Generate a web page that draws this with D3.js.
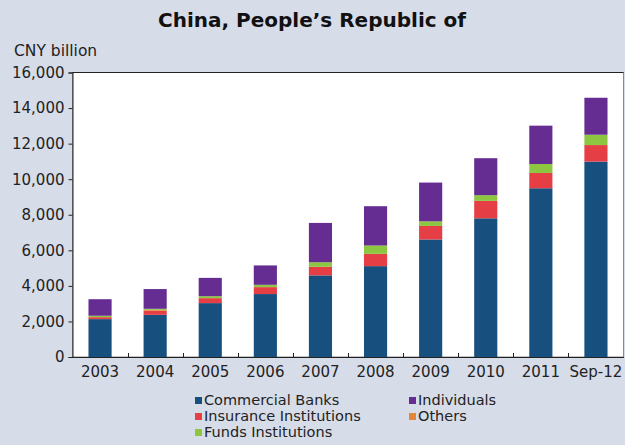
<!DOCTYPE html>
<html>
<head>
<meta charset="utf-8">
<script src="https://cdn.jsdelivr.net/npm/d3@7"></script>
<style>
  html, body { margin: 0; padding: 0; background: #D7DCE9; }
  svg { display: block; }
  text { font-family: "DejaVu Sans", Verdana, sans-serif; fill: #222; }
</style>
</head>
<body>
<svg id="chart" width="625" height="445"></svg>
<script>
// Holdings by investor type, CNY billion
const categories = ["2003", "2004", "2005", "2006", "2007", "2008", "2009", "2010", "2011", "Sep-12"];
const commercialBanks = [2130, 2370, 3030, 3540, 4590, 5110, 6610, 7800, 9490, 10990];
const insurance       = [110, 230, 280, 390, 480, 690, 760, 980, 860, 930];
const others          = [0, 50, 0, 0, 0, 0, 0, 0, 0, 0];
const funds           = [80, 60, 110, 130, 260, 470, 260, 320, 505, 580];
const individuals     = [930, 1110, 1030, 1090, 2210, 2210, 2180, 2080, 2155, 2080];
const yTicks = [0, 2000, 4000, 6000, 8000, 10000, 12000, 14000, 16000];

const seriesDefs = [
  { key: "banks", name: "Commercial Banks", values: commercialBanks, color: "#174F7E" },
  { key: "insurance", name: "Insurance Institutions", values: insurance, color: "#E63E45" },
  { key: "others", name: "Others", values: others, color: "#E3883B" },
  { key: "funds", name: "Funds Institutions", values: funds, color: "#8DC641" },
  { key: "individuals", name: "Individuals", values: individuals, color: "#652D91" }
];

const rows = categories.map((c, i) => {
  const r = { cat: c };
  seriesDefs.forEach(s => r[s.key] = s.values[i]);
  return r;
});

const svg = d3.select("#chart");
const plot = { left: 72.5, right: 623.5, top: 72.5, bottom: 357 };

const x = d3.scaleBand().domain(categories)
  .range([plot.left, plot.right]).paddingInner(0.58).paddingOuter(0.29);
const y = d3.scaleLinear().domain([0, 16000]).range([plot.bottom, plot.top]);

// Title and unit
svg.append("text").attr("x", 312).attr("y", 27).attr("text-anchor", "middle")
  .style("font-size", "20px").style("font-weight", "bold").style("fill", "#111")
  .text("China, People\u2019s Republic of");
svg.append("text").attr("x", 14).attr("y", 56).style("font-size", "15.5px")
  .text("CNY billion");

// Plot area
svg.append("rect").attr("x", plot.left).attr("y", plot.top)
  .attr("width", plot.right - plot.left).attr("height", plot.bottom - plot.top)
  .attr("fill", "#fff").attr("stroke", "#8a8a8a").attr("stroke-width", 1);
svg.append("line").attr("x1", plot.left).attr("x2", plot.right)
  .attr("y1", plot.top).attr("y2", plot.top).attr("stroke", "#222");

// Stacked bars
const stack = d3.stack().keys(seriesDefs.map(s => s.key));
const layers = stack(rows);
svg.append("g").selectAll("g").data(layers).join("g")
  .attr("fill", (d, i) => seriesDefs[i].color)
  .selectAll("rect").data(d => d).join("rect")
  .attr("x", d => x(d.data.cat))
  .attr("width", x.bandwidth())
  .attr("y", d => y(d[1]))
  .attr("height", d => y(d[0]) - y(d[1]));

// Y axis
const yAxis = svg.append("g").attr("transform", `translate(${plot.left},0)`)
  .call(d3.axisLeft(y).tickValues(yTicks).tickSize(4).tickPadding(4)
    .tickFormat(d3.format(",")));
yAxis.select(".domain").attr("stroke", "#222");
yAxis.selectAll(".tick line").attr("stroke", "#222");
yAxis.selectAll("text").style("font-size", "15px").style("fill", "#222")
  .style("font-family", "DejaVu Sans, Verdana, sans-serif");

// X axis: labels under bars, ticks at category boundaries pointing inward
const xAxis = svg.append("g").attr("transform", `translate(0,${plot.bottom})`)
  .call(d3.axisBottom(x).tickSize(0).tickPadding(9));
xAxis.select(".domain").attr("stroke", "#222");
xAxis.selectAll("text").style("font-size", "15px").style("fill", "#222")
  .style("font-family", "DejaVu Sans, Verdana, sans-serif");
const step = x.step();
svg.append("g").selectAll("line").data(categories.slice(1)).join("line")
  .attr("x1", d => Math.round(x(d) - (step - x.bandwidth()) / 2) + 0.5)
  .attr("x2", d => Math.round(x(d) - (step - x.bandwidth()) / 2) + 0.5)
  .attr("y1", plot.bottom).attr("y2", plot.bottom - 4)
  .attr("stroke", "#222");

// Legend (two columns)
const legendItems = [
  { s: seriesDefs[0], col: 0, row: 0 },
  { s: seriesDefs[4], col: 1, row: 0 },
  { s: seriesDefs[1], col: 0, row: 1 },
  { s: seriesDefs[2], col: 1, row: 1 },
  { s: seriesDefs[3], col: 0, row: 2 }
];
const lg = svg.append("g").selectAll("g").data(legendItems).join("g")
  .attr("transform", d => `translate(${195 + d.col * 214},${397 + d.row * 16})`);
lg.append("rect").attr("width", 7).attr("height", 7).attr("fill", d => d.s.color);
lg.append("text").attr("x", 9).attr("y", 8).style("font-size", "14.5px")
  .text(d => d.s.name);
</script>
</body>
</html>
